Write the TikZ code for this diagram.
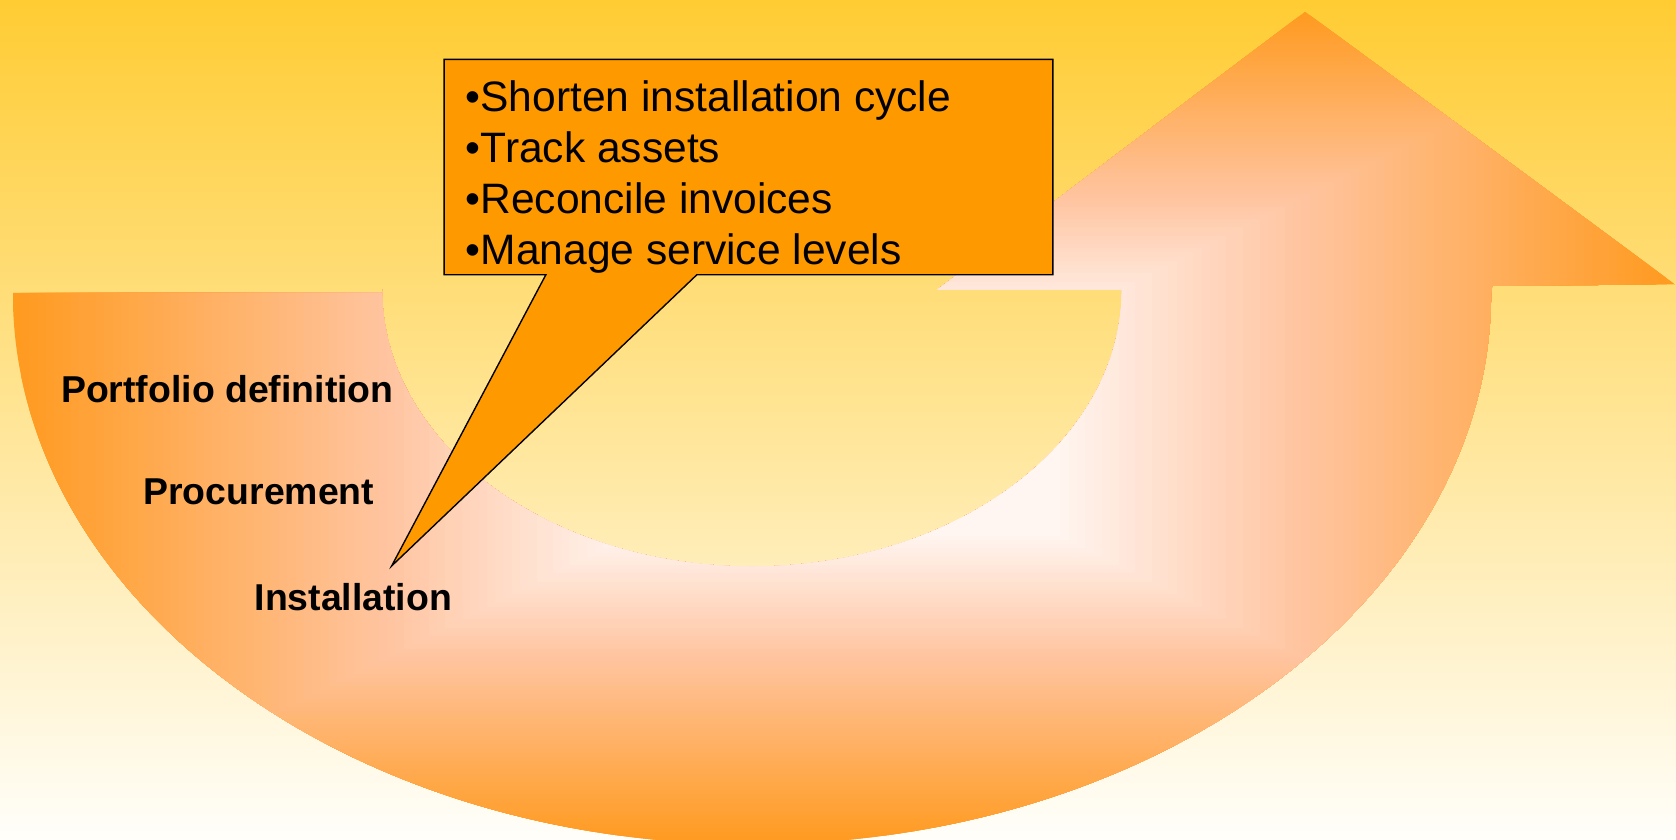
\documentclass[tikz,border=0pt]{standalone}
\usepackage{fontspec}
\setmainfont{Liberation Sans}
\usepackage{xcolor}
\usepackage{tikz}

\definecolor{bgtop}{HTML}{FFCC33}
\definecolor{bgbottom}{HTML}{FFFEFA}
\definecolor{arrowedge}{HTML}{FF9A1E}
\definecolor{arrowmid}{HTML}{FFC4A0}
\definecolor{arrowcore}{HTML}{FFF6F2}
\definecolor{calloutfill}{HTML}{FF9900}

\begin{document}
\begin{tikzpicture}
[x=1pt,y=-1pt,every node/.style={inner sep=0pt,anchor=base west,text=black},
	goal/.style={font=\fontsize{39.8}{47}\selectfont},
	stage/.style={font=\fontsize{35}{41}\bfseries\selectfont},
	callout/.style={fill=calloutfill,draw=black,line width=1.3pt}]
\useasboundingbox (0,0) rectangle (1568,785);
\clip (0,0) rectangle (1568,785);
\shade[top color=bgtop,bottom color=bgbottom] (0,0) rectangle (1568,785);
%% u-turn arrow
\begin{scope}
\clip (12,274) arc[start angle=180,end angle=0,x radius=691.5,y radius=516]
	-- (1396,267.5) -- (1567,266) -- (1221,11) -- (877,271) -- (1049.5,271)
	arc[start angle=0,end angle=180,x radius=346,y radius=259]
	-- (357.5,274) -- cycle;
\foreach \i in {0,...,99}
{
	\pgfmathsetmacro\t{1-\i/100}
	\pgfmathsetmacro\s{\i/100+0.005}
	\ifdim\s pt<0.45pt
		\pgfmathsetmacro\p{\s/0.45*100}
		\colorlet{shadestep}{arrowmid!\p!arrowedge}
	\else
		\pgfmathsetmacro\p{min(100,(\s-0.45)/0.3*100)}
		\colorlet{shadestep}{arrowcore!\p!arrowmid}
	\fi
	\fill[shadestep] (790-778*\t,400-390*\t) rectangle (790+777*\t,400+390*\t);
}
\end{scope}
%% stages
\node[stage] (portfolio) at (57,377) {Portfolio definition};
\node[stage] (procurement) at (134,472) {Procurement};
\node[stage] (installation) at (238,571.5) {Installation};
%% callout
\draw[callout] (415.5,55.5) -- (985,55.5) -- (985,257) -- (652,257)
	-- (366.4,529.5) -- (510.7,257) -- (415.5,257) -- cycle;
\foreach \txt [count=\k from 0] in {Shorten installation cycle,Track assets,Reconcile invoices,Manage service levels}
{
	\node[goal] (goal\k) at (435.5,104.5+47.5*\k) {•\txt};
}
\end{tikzpicture}
\end{document}
